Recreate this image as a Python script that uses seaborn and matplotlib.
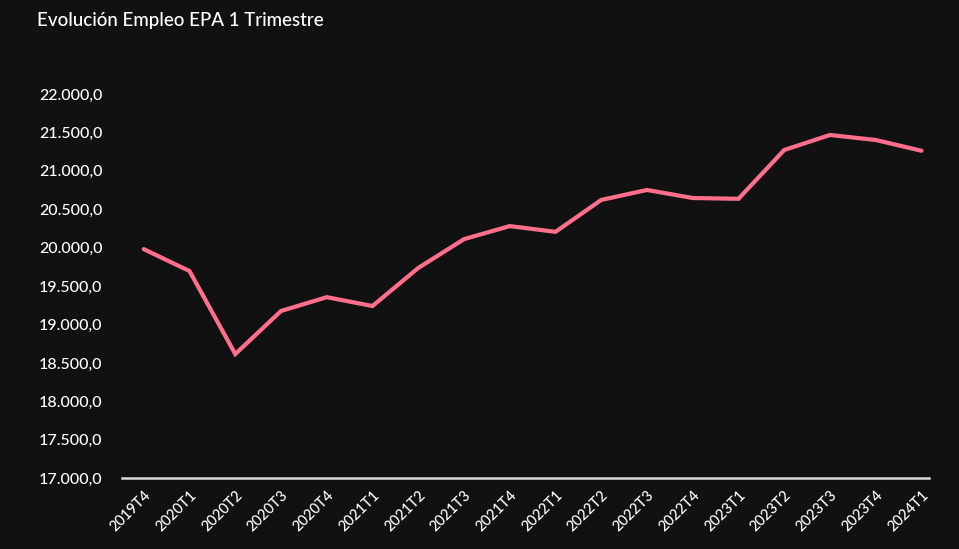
import matplotlib
matplotlib.use("Agg")
import matplotlib.pyplot as plt
import matplotlib.ticker as mticker
import seaborn as sns
import pandas as pd

# Datos (miles de ocupados, EPA)
trimestres = ["2019T4", "2020T1", "2020T2", "2020T3", "2020T4", "2021T1",
              "2021T2", "2021T3", "2021T4", "2022T1", "2022T2", "2022T3",
              "2022T4", "2023T1", "2023T2", "2023T3", "2023T4", "2024T1"]
ocupados = [19980, 19695, 18615, 19175, 19355, 19240,
            19735, 20110, 20280, 20205, 20620, 20750,
            20645, 20635, 21270, 21465, 21400, 21260]

df = pd.DataFrame({"trimestre": trimestres, "ocupados": ocupados})
df["x"] = range(len(df))

bg = "#111111"
sns.set_style("dark", {"axes.facecolor": bg, "figure.facecolor": bg})
plt.rcParams["font.family"] = ["Lato", "DejaVu Sans"]

fig = plt.figure(figsize=(9.59, 5.49), dpi=100)
ax = fig.add_axes([0.127, 0.129, 0.842, 0.700])

sns.lineplot(data=df, x="x", y="ocupados", ax=ax, color="#ff6f8c", linewidth=3,
             solid_joinstyle="miter")

ax.set_ylim(17000, 22000)
ax.set_xlim(-0.48, 17.17)
ax.set_yticks(range(17000, 22001, 500))
ax.yaxis.set_major_formatter(mticker.FuncFormatter(
    lambda v, p: f"{v:,.1f}".replace(",", "X").replace(".", ",").replace("X", ".")))
ax.set_xticks(df["x"])
ax.set_xticklabels(trimestres, rotation=45, ha="right", rotation_mode="anchor")

ax.tick_params(axis="y", colors="white", labelsize=11.5, length=0, pad=14)
ax.tick_params(axis="x", colors="white", labelsize=10.5, length=0, pad=7)
for lbl in ax.get_yticklabels() + ax.get_xticklabels():
    lbl.set_fontweight("medium")
ax.set_xlabel("")
ax.set_ylabel("")
ax.grid(False)
for s in ["top", "right", "left"]:
    ax.spines[s].set_visible(False)
ax.spines["bottom"].set_color("#d9d9d9")
ax.spines["bottom"].set_linewidth(1.8)

fig.text(0.039, 0.962, "Evolución Empleo EPA 1 Trimestre", color="white",
         fontsize=13.5, fontweight="medium", va="center", ha="left")

fig.savefig("out.png", dpi=100, facecolor=bg)
